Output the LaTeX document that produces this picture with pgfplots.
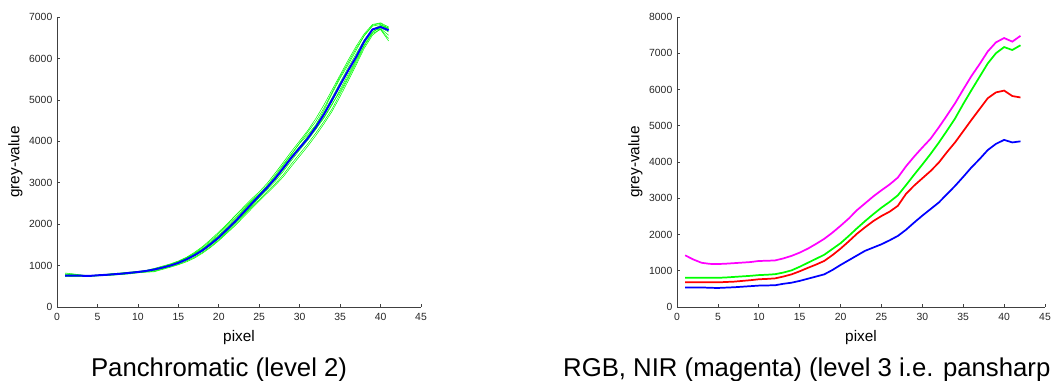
\documentclass[border=0pt]{standalone}
\usepackage{pgfplots}
\pgfplotsset{compat=1.18}
\usepackage{fontspec}
\setmainfont{Liberation Sans}
\definecolor{mgreen}{RGB}{0,255,0}
\definecolor{mblue}{RGB}{0,0,255}
\definecolor{mred}{RGB}{255,0,0}
\definecolor{mmag}{RGB}{255,0,255}
\pgfplotsset{
  mstyle/.style={
    scale only axis,
    axis x line=bottom, axis y line=left,
    axis line style={-, color=black!75, line width=0.6pt},
    tick align=inside,
    major tick length=2.5pt,
    tick style={color=black!75, line width=0.5pt},
    xmin=0, xmax=45,
    xtick={0,5,...,45},
    ymin=0,
    tick label style={font=\fontsize{7.8}{8}\selectfont, color=black!85},
    xticklabel style={yshift=-1.5pt},
    /pgf/number format/assume math mode=true,
    /pgf/number format/1000 sep={},
    xlabel={pixel}, ylabel={grey-value},
    label style={font=\fontsize{11.5}{12}\selectfont},
    xlabel style={yshift=0pt},
    ylabel style={yshift=-2pt},
    clip=false,
  }
}
\begin{document}
\begin{tikzpicture}[x=1pt,y=1pt]
\useasboundingbox (0,0) rectangle (789,285.75);
% left axis
\begin{axis}[mstyle, at={(42.75pt,55.5pt)}, anchor=south west,
  width=273pt, height=217.5pt, ymax=7000, ytick={0,1000,...,7000}]
\addplot[mgreen, line width=0.4pt] coordinates {(1,820)(2,800)(3,770)(4,760)(5,770)(6,780)(7,810)(8,820)(9,840)(10,850)(11,870)(12,900)(13,960)(14,1020)(15,1090)(16,1180)(17,1290)(18,1410)(19,1570)(20,1740)(21,1940)(22,2140)(23,2340)(24,2540)(25,2720)(26,2940)(27,3190)(28,3450)(29,3700)(30,3950)(31,4160)(32,4400)(33,4750)(34,5150)(35,5520)(36,5850)(37,6200)(38,6560)(39,6800)(40,6850)(41,6720)};
\addplot[mgreen, line width=0.4pt] coordinates {(1,750)(2,745)(3,745)(4,745)(5,755)(6,765)(7,775)(8,790)(9,810)(10,830)(11,850)(12,860)(13,920)(14,975)(15,1030)(16,1110)(17,1200)(18,1320)(19,1460)(20,1620)(21,1800)(22,1990)(23,2190)(24,2400)(25,2590)(26,2790)(27,2980)(28,3200)(29,3460)(30,3700)(31,3940)(32,4200)(33,4480)(34,4780)(35,5150)(36,5520)(37,5900)(38,6300)(39,6600)(40,6700)(41,6480)};
\addplot[mgreen, line width=0.4pt] coordinates {(1,780)(2,790)(3,770)(4,755)(5,760)(6,770)(7,800)(8,810)(9,820)(10,840)(11,860)(12,910)(13,955)(14,1010)(15,1080)(16,1160)(17,1260)(18,1390)(19,1550)(20,1720)(21,1910)(22,2110)(23,2320)(24,2520)(25,2700)(26,2880)(27,3080)(28,3320)(29,3580)(30,3860)(31,4120)(32,4380)(33,4650)(34,4960)(35,5330)(36,5700)(37,6060)(38,6400)(39,6700)(40,6800)(41,6740)};
\addplot[mgreen, line width=0.4pt] coordinates {(1,740)(2,750)(3,755)(4,760)(5,765)(6,780)(7,790)(8,800)(9,830)(10,850)(11,860)(12,890)(13,940)(14,990)(15,1060)(16,1150)(17,1250)(18,1360)(19,1500)(20,1660)(21,1850)(22,2030)(23,2220)(24,2420)(25,2640)(26,2860)(27,3100)(28,3380)(29,3650)(30,3880)(31,4080)(32,4300)(33,4560)(34,4880)(35,5250)(36,5620)(37,5980)(38,6380)(39,6640)(40,6740)(41,6640)};
\addplot[mgreen, line width=0.4pt] coordinates {(1,770)(2,770)(3,760)(4,750)(5,770)(6,780)(7,800)(8,820)(9,840)(10,860)(11,880)(12,920)(13,970)(14,1030)(15,1100)(16,1190)(17,1300)(18,1440)(19,1600)(20,1780)(21,1980)(22,2190)(23,2380)(24,2560)(25,2740)(26,2930)(27,3160)(28,3420)(29,3690)(30,3960)(31,4220)(32,4480)(33,4800)(34,5180)(35,5560)(36,5900)(37,6250)(38,6550)(39,6780)(40,6820)(41,6700)};
\addplot[mgreen, line width=0.4pt] coordinates {(1,760)(2,760)(3,750)(4,745)(5,755)(6,765)(7,780)(8,795)(9,815)(10,835)(11,855)(12,880)(13,930)(14,985)(15,1050)(16,1130)(17,1230)(18,1350)(19,1490)(20,1650)(21,1830)(22,2020)(23,2240)(24,2450)(25,2650)(26,2840)(27,3040)(28,3280)(29,3540)(30,3790)(31,4030)(32,4290)(33,4580)(34,4900)(35,5200)(36,5560)(37,5950)(38,6330)(39,6620)(40,6780)(41,6700)};
\addplot[mgreen, line width=0.4pt] coordinates {(1,770)(2,765)(3,760)(4,755)(5,760)(6,770)(7,790)(8,805)(9,825)(10,845)(11,865)(12,900)(13,950)(14,1005)(15,1075)(16,1170)(17,1280)(18,1400)(19,1540)(20,1700)(21,1890)(22,2080)(23,2280)(24,2470)(25,2660)(26,2870)(27,3120)(28,3380)(29,3620)(30,3850)(31,4100)(32,4370)(33,4700)(34,5050)(35,5420)(36,5780)(37,6120)(38,6450)(39,6680)(40,6700)(41,6420)};
\addplot[mgreen, line width=0.4pt] coordinates {(1,800)(2,780)(3,765)(4,750)(5,765)(6,790)(7,805)(8,815)(9,830)(10,855)(11,880)(12,930)(13,985)(14,1040)(15,1110)(16,1200)(17,1320)(18,1460)(19,1630)(20,1810)(21,2000)(22,2200)(23,2400)(24,2600)(25,2780)(26,2990)(27,3240)(28,3500)(29,3760)(30,4010)(31,4260)(32,4550)(33,4880)(34,5240)(35,5600)(36,5960)(37,6300)(38,6600)(39,6820)(40,6860)(41,6760)};
\addplot[mgreen, line width=0.4pt] coordinates {(1,745)(2,740)(3,740)(4,740)(5,750)(6,760)(7,770)(8,785)(9,800)(10,825)(11,840)(12,850)(13,905)(14,960)(15,1020)(16,1090)(17,1180)(18,1300)(19,1440)(20,1600)(21,1780)(22,1960)(23,2160)(24,2360)(25,2560)(26,2750)(27,2940)(28,3150)(29,3400)(30,3640)(31,3880)(32,4140)(33,4420)(34,4720)(35,5080)(36,5460)(37,5850)(38,6250)(39,6560)(40,6720)(41,6560)};
\addplot[mblue, line width=1.5pt] coordinates {(1,760)(2,760)(3,755)(4,750)(5,765)(6,775)(7,790)(8,805)(9,825)(10,845)(11,870)(12,905)(13,950)(14,1000)(15,1065)(16,1150)(17,1250)(18,1370)(19,1520)(20,1680)(21,1870)(22,2060)(23,2270)(24,2480)(25,2690)(26,2890)(27,3110)(28,3360)(29,3610)(30,3840)(31,4070)(32,4340)(33,4650)(34,5000)(35,5360)(36,5710)(37,6040)(38,6420)(39,6700)(40,6760)(41,6680)};
\end{axis}
% right axis
\begin{axis}[mstyle, at={(507.75pt,55.5pt)}, anchor=south west,
  width=276pt, height=217.5pt, ymax=8000, ytick={0,1000,...,8000}]
\addplot[mmag, line width=1.3pt] coordinates {(1,1425)(2,1310)(3,1220)(4,1190)(5,1185)(6,1195)(7,1210)(8,1225)(9,1240)(10,1270)(11,1275)(12,1285)(13,1340)(14,1410)(15,1500)(16,1610)(17,1740)(18,1880)(19,2050)(20,2240)(21,2440)(22,2670)(23,2860)(24,3050)(25,3220)(26,3380)(27,3570)(28,3880)(29,4150)(30,4400)(31,4640)(32,4950)(33,5280)(34,5620)(35,6000)(36,6370)(37,6700)(38,7050)(39,7300)(40,7420)(41,7320)(42,7480)};
\addplot[mgreen, line width=1.3pt] coordinates {(1,810)(2,810)(3,810)(4,805)(5,805)(6,815)(7,830)(8,845)(9,860)(10,880)(11,890)(12,905)(13,950)(14,1010)(15,1110)(16,1220)(17,1330)(18,1440)(19,1600)(20,1760)(21,1960)(22,2170)(23,2370)(24,2560)(25,2740)(26,2900)(27,3080)(28,3360)(29,3650)(30,3930)(31,4220)(32,4530)(33,4860)(34,5200)(35,5600)(36,5980)(37,6350)(38,6720)(39,7000)(40,7170)(41,7090)(42,7220)};
\addplot[mred, line width=1.3pt] coordinates {(1,680)(2,680)(3,680)(4,680)(5,680)(6,690)(7,700)(8,720)(9,740)(10,765)(11,775)(12,790)(13,840)(14,900)(15,985)(16,1080)(17,1170)(18,1270)(19,1430)(20,1610)(21,1810)(22,2020)(23,2200)(24,2370)(25,2510)(26,2630)(27,2790)(28,3120)(29,3350)(30,3550)(31,3750)(32,3980)(33,4270)(34,4540)(35,4850)(36,5160)(37,5460)(38,5760)(39,5920)(40,5970)(41,5820)(42,5780)};
\addplot[mblue, line width=1.3pt] coordinates {(1,540)(2,540)(3,540)(4,530)(5,525)(6,535)(7,545)(8,560)(9,575)(10,590)(11,595)(12,600)(13,640)(14,670)(15,720)(16,780)(17,840)(18,900)(19,1020)(20,1160)(21,1290)(22,1420)(23,1550)(24,1640)(25,1730)(26,1840)(27,1960)(28,2130)(29,2330)(30,2520)(31,2700)(32,2880)(33,3110)(34,3340)(35,3590)(36,3850)(37,4080)(38,4330)(39,4500)(40,4610)(41,4540)(42,4570)};
\end{axis}
% captions
\node[font=\fontsize{19.3}{21}\selectfont, anchor=base, inner sep=0pt] at (164.3pt,3.3pt) {Panchromatic (level 2)};
\node[font=\fontsize{19.3}{21}\selectfont, anchor=base east, inner sep=0pt] at (788pt,3.3pt) {RGB, NIR (magenta) (level 3 i.e. pansharp};
\end{tikzpicture}
\end{document}
